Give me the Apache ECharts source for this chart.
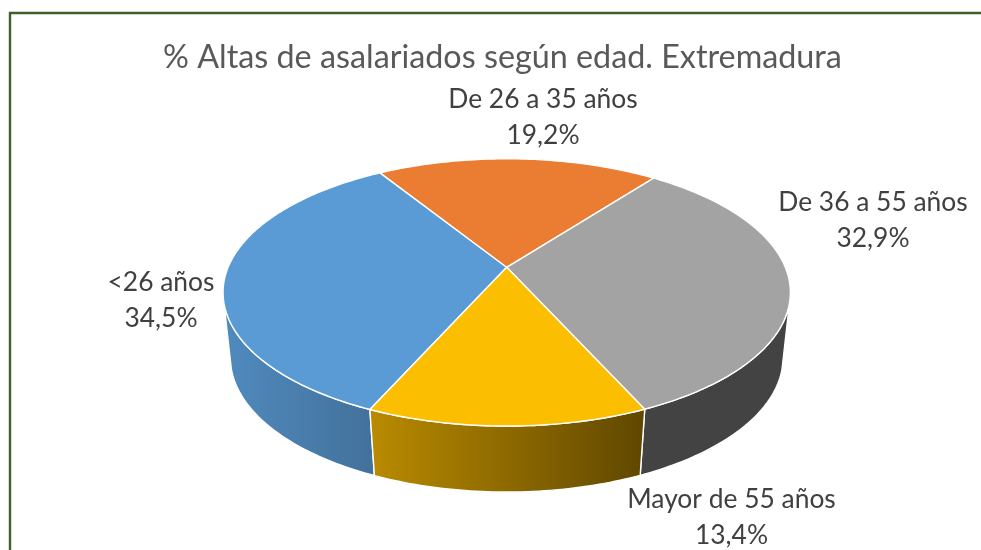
<!DOCTYPE html>
<html><head><meta charset="utf-8">
<style>html,body{margin:0;padding:0;background:#fff}#c{width:981px;height:550px}</style>
<script src="https://cdn.jsdelivr.net/npm/echarts@6/dist/echarts.min.js"></script>
</head><body><div id="c"></div>
<script>
const categories = ['<26 años', 'De 26 a 35 años', 'De 36 a 55 años', 'Mayor de 55 años'];
const shares = [34.5, 19.2, 32.9, 13.4];
const chartTitle = '% Altas de asalariados según edad. Extremadura';

const topColors = ['#5B9BD5', '#EB7D32', '#A3A3A3', '#FCBE00'];
const wallColors = [['#508ABE', '#42719B'], ['#B0581F', '#8A4A1F'], ['#434343', '#434343'], ['#BA8B00', '#5F4700']];
const labelCenters = [[161, 300], [543, 117.5], [873, 220], [731.5, 517]];

const FIRST_ANGLE = 204;
const VISIBLE = [105, 255];
const TOP_PLANE = { cx: 506.7, cy: 267.3, rx: 278.6, ry: 128.9, p: 0.188 };
const BOTTOM_PLANE = { cx: 506.7, cy: 333.5, rx: 271.8, ry: 130, p: 0.18 };

function project(pl, deg) {
  const t = deg * Math.PI / 180, u = Math.sin(t), v = -Math.cos(t), d = 1 - pl.p * v;
  return [pl.cx + pl.rx * u / d, pl.cy + pl.ry * v / d];
}
function arc(pl, a, b) {
  const n = Math.max(2, Math.ceil(Math.abs(b - a))), pts = [];
  for (let i = 0; i <= n; i++) pts.push(project(pl, a + (b - a) * i / n));
  return pts;
}
const total = shares.reduce((s, v) => s + v, 0);
function startOf(i) {
  let s = FIRST_ANGLE;
  for (let k = 0; k < i; k++) s += shares[k] / total * 360;
  return s;
}
// the rim that faces the viewer within a slice, trying the slice's angle and its +-360 twin
function visibleRange(a, b) {
  for (const off of [0, -360, 360]) {
    const lo = Math.max(a + off, VISIBLE[0]), hi = Math.min(b + off, VISIBLE[1]);
    if (hi > lo) return [lo, hi];
  }
  return null;
}
function renderItem(params, api) {
  const i = params.dataIndex, a = startOf(i), b = a + api.value(0) / total * 360;
  const children = [];
  const r = visibleRange(a, b);
  if (r) {
    const pts = arc(TOP_PLANE, r[0], r[1]).concat(arc(BOTTOM_PLANE, r[1], r[0]));
    const xs = pts.map(p => p[0]), x0 = Math.min.apply(null, xs), x1 = Math.max.apply(null, xs);
    children.push({
      type: 'polygon', z2: 1, shape: { points: pts },
      style: {
        fill: { type: 'linear', x: x0, y: 0, x2: x1, y2: 0, global: true,
          colorStops: [{ offset: 0, color: wallColors[i][0] }, { offset: 1, color: wallColors[i][1] }] },
        stroke: '#fff', lineWidth: 1.4, lineJoin: 'round'
      }
    });
  }
  children.push({
    type: 'polygon', z2: 2,
    shape: { points: [[TOP_PLANE.cx, TOP_PLANE.cy]].concat(arc(TOP_PLANE, a, b)) },
    style: { fill: topColors[i], stroke: '#fff', lineWidth: 1.4, lineJoin: 'round' }
  });
  children.push({
    type: 'text', z2: 3,
    x: labelCenters[i][0], y: labelCenters[i][1],
    style: {
      text: categories[i] + '\n' + api.value(0).toFixed(1).replace('.', ',') + '%',
      fontFamily: 'Lato', fontSize: 26.4, lineHeight: 36, fill: '#404040',
      align: 'center', verticalAlign: 'middle'
    }
  });
  return { type: 'group', children: children };
}
const chart = echarts.init(document.getElementById('c'), null, { renderer: 'canvas' });
chart.setOption({
  animation: false,
  backgroundColor: '#ffffff',
  title: {
    text: chartTitle, left: 497.5, top: 37, textAlign: 'center',
    textStyle: { fontFamily: 'Lato', fontSize: 32.3, fontWeight: 'normal', color: '#595959' }
  },
  graphic: [{
    type: 'rect', silent: true, shape: { x: 10, y: 13, width: 1100, height: 700 },
    style: { fill: 'none', stroke: '#3F6029', lineWidth: 2.4 }
  }],
  series: [{
    type: 'custom', coordinateSystem: 'none', silent: true,
    renderItem: renderItem,
    data: categories.map((name, i) => ({ name: name, value: shares[i] }))
  }]
});
</script></body></html>
